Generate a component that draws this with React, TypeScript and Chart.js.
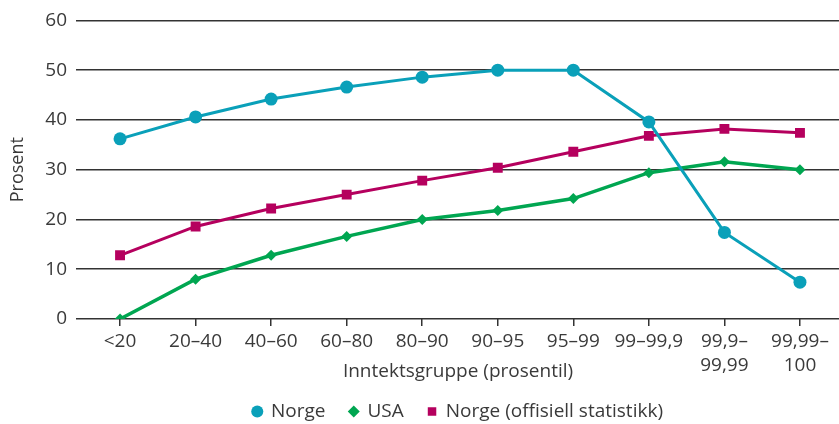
import { useEffect, useRef } from "react";
import { Chart, registerables } from "chart.js";

Chart.register(...registerables);

const categories: (string | string[])[] = [
  "<20",
  "20–40",
  "40–60",
  "60–80",
  "80–90",
  "90–95",
  "95–99",
  "99–99,9",
  ["99,9–", "99,99"],
  ["99,99–", "100"],
];

const norge = [36.2, 40.6, 44.2, 46.6, 48.6, 50.0, 50.0, 39.6, 17.4, 7.4];
const usa = [0.0, 8.0, 12.8, 16.6, 20.0, 21.8, 24.2, 29.4, 31.6, 30.0];
const norgeOffisiell = [12.8, 18.6, 22.2, 25.0, 27.8, 30.4, 33.6, 36.8, 38.2, 37.4];

const yTicks = [0, 10, 20, 30, 40, 50, 60];

const FONT = "'Open Sans', sans-serif";
const TEXT = "#3a3a3a";
const TEAL = "#0aa0b9";
const GREEN = "#00a651";
const MAGENTA = "#b5005e";

const CANVAS_W = 847;

export default function App() {
  const ref = useRef<HTMLCanvasElement | null>(null);

  useEffect(() => {
    if (!ref.current) return;
    const toPts = (arr: number[]) => arr.map((y, i) => ({ x: i, y }));
    const chart = new Chart(ref.current, {
      type: "line",
      data: {
        datasets: [
          {
            label: "Norge",
            data: toPts(norge),
            borderColor: TEAL,
            backgroundColor: TEAL,
            borderWidth: 3,
            pointStyle: "circle",
            pointRadius: 6.5,
            pointBorderWidth: 0,
          },
          {
            label: "USA",
            data: toPts(usa),
            borderColor: GREEN,
            backgroundColor: GREEN,
            borderWidth: 3.5,
            pointStyle: "rectRot",
            pointRadius: 5.5,
            pointBorderWidth: 0,
          },
          {
            label: "Norge (offisiell statistikk)",
            data: toPts(norgeOffisiell),
            borderColor: MAGENTA,
            backgroundColor: MAGENTA,
            borderWidth: 3,
            pointStyle: "rect",
            pointRadius: 7,
            pointBorderWidth: 0,
          },
        ],
      },
      options: {
        animation: false,
        responsive: false,
        maintainAspectRatio: false,
        layout: { padding: { top: 19, right: 0, left: 0, bottom: -7 } },
        plugins: {
          tooltip: { enabled: false },
          legend: {
            position: "bottom",
            fullSize: false,
            labels: {
              usePointStyle: true,
              boxWidth: 8.5,
              boxHeight: 8.5,
              padding: 24,
              color: TEXT,
              font: { family: FONT, size: 19 },
            },
          },
        },
        scales: {
          x: {
            type: "linear",
            min: -0.583,
            max: 9.53,
            afterBuildTicks: (s: any) => {
              s.ticks = categories.map((_, i) => ({ value: i }));
            },
            afterFit: (s: any) => {
              s.height = 59;
              s.paddingLeft = 0;
              s.paddingRight = 0;
            },
            ticks: {
              autoSkip: false,
              maxRotation: 0,
              padding: 3,
              color: TEXT,
              font: { family: FONT, size: 19, lineHeight: 1.3 },
              callback: (v: any) => categories[v as number],
            },
            grid: {
              drawOnChartArea: false,
              drawTicks: true,
              tickLength: 7,
              color: "#333",
              lineWidth: 1.5,
            },
            border: { display: false },
            title: {
              display: true,
              text: "Inntektsgruppe (prosentil)",
              color: TEXT,
              font: { family: FONT, size: 19 },
              padding: { top: 0, bottom: -5 },
            },
          },
          y: {
            min: 0,
            max: 60,
            afterBuildTicks: (s: any) => {
              s.ticks = yTicks.map((v) => ({ value: v }));
            },
            afterFit: (s: any) => {
              s.width = 76;
            },
            ticks: {
              padding: 9,
              color: TEXT,
              font: { family: FONT, size: 19 },
            },
            grid: {
              drawTicks: false,
              color: "#333",
              lineWidth: 1.5,
            },
            border: { display: false },
            title: {
              display: true,
              text: "Prosent",
              color: TEXT,
              font: { family: FONT, size: 18 },
              padding: { top: 7, bottom: 0 },
            },
          },
        },
      },
    });
    return () => chart.destroy();
  }, []);

  return (
    <div
      style={{
        position: "fixed",
        left: 0,
        top: 0,
        width: 839,
        height: 424,
        overflow: "hidden",
        background: "#fff",
      }}
    >
      <canvas ref={ref} width={CANVAS_W} height={424} style={{ width: CANVAS_W, height: 424, display: "block" }} />
    </div>
  );
}
